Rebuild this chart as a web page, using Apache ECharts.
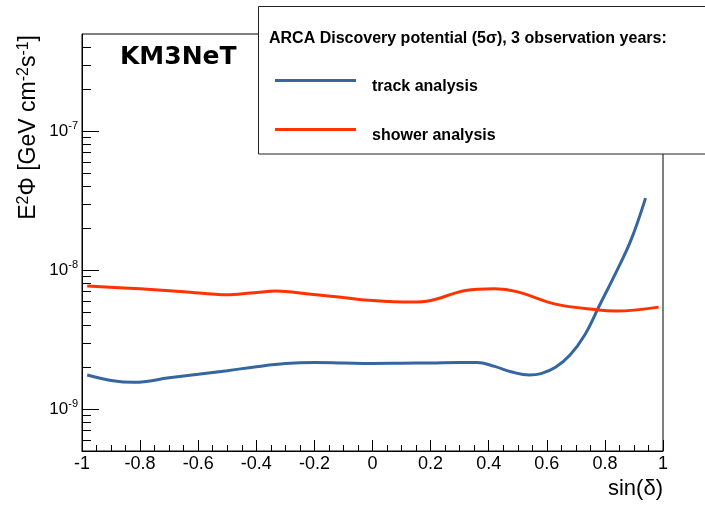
<!DOCTYPE html>
<html><head><meta charset="utf-8">
<script src="https://cdn.jsdelivr.net/npm/echarts@6/dist/echarts.min.js"></script>
<style>html,body{margin:0;padding:0;background:#fff}#c{width:705px;height:505px}</style>
</head><body><div id="c"></div>
<script>
// ---- data ----
const trackSinDelta = [-0.982, -0.9, -0.82, -0.7, -0.6, -0.5, -0.4, -0.3, -0.2, -0.1, 0.0, 0.1, 0.2, 0.3, 0.36, 0.42, 0.48, 0.54, 0.58, 0.63, 0.68, 0.73, 0.78, 0.84, 0.89, 0.94];
const trackFlux = [1.76e-9, 1.61e-9, 1.56e-9, 1.68e-9, 1.78e-9, 1.89e-9, 2.02e-9, 2.13e-9, 2.17e-9, 2.15e-9, 2.13e-9, 2.14e-9, 2.15e-9, 2.17e-9, 2.17e-9, 2.03e-9, 1.85e-9, 1.76e-9, 1.80e-9, 2.0e-9, 2.45e-9, 3.4e-9, 5.5e-9, 9.8e-9, 1.65e-8, 3.3e-8];
const showerSinDelta = [-0.982, -0.8, -0.65, -0.5, -0.42, -0.33, -0.22, -0.1, 0.0, 0.13, 0.2, 0.32, 0.42, 0.5, 0.63, 0.77, 0.84, 0.985];
const showerFlux = [7.7e-9, 7.34e-9, 7.0e-9, 6.65e-9, 6.84e-9, 7.07e-9, 6.73e-9, 6.35e-9, 6.05e-9, 5.89e-9, 6.05e-9, 7.14e-9, 7.34e-9, 6.98e-9, 5.7e-9, 5.19e-9, 5.08e-9, 5.42e-9];
const seriesNames = ['track analysis', 'shower analysis'];
const legendHeader = 'ARCA Discovery potential (5\u03c3), 3 observation years:';
const experimentLabel = 'KM3NeT';
const xRange = [-1, 1];
const xStep = 0.2;
const yRange = [5e-10, 5e-7];
const yMajorTicks = [1e-9, 1e-8, 1e-7];
const yMinorTicks = [6e-10, 7e-10, 8e-10, 9e-10, 2e-9, 3e-9, 4e-9, 5e-9, 6e-9, 7e-9, 8e-9, 9e-9, 2e-8, 3e-8, 4e-8, 5e-8, 6e-8, 7e-8, 8e-8, 9e-8, 2e-7, 3e-7, 4e-7];
const xTitle = 'sin(\u03b4)';

const FONT = 'Liberation Sans';
const zip = (a, b) => a.map((v, i) => [v, b[i]]);
// legend line icon: a 3px bar at the top of a 15px-tall item so the label sits a little lower
const LEGEND_ICON = 'path://M0,0H81V3H0Z M0,15H0.01V15.01H0Z';

const chart = echarts.init(document.getElementById('c'), null, {renderer: 'canvas'});
const yBase = {
  type: 'log', logBase: 10, min: yRange[0], max: yRange[1], position: 'left',
  splitLine: {show: false}, minorTick: {show: false}, minorSplitLine: {show: false}
};
chart.setOption({
  animation: false,
  backgroundColor: '#fff',
  grid: {left: 82, right: 42, top: 34, bottom: 54, show: true, borderColor: '#000', borderWidth: 1, containLabel: false, outerBoundsMode: 'none'},
  title: [
    {text: experimentLabel, left: 120, top: 45, padding: 0,
     textStyle: {fontFamily: 'DejaVu Sans', fontWeight: 'bold', fontSize: 25, color: '#000'}},
    {text: legendHeader, left: 269, top: 31, padding: 0, z: 8,
     textStyle: {fontFamily: FONT, fontWeight: 'bold', fontSize: 16, color: '#000'}}
  ],
  legend: seriesNames.map((n, i) => ({
    data: [{name: n, icon: LEGEND_ICON}], left: 275, top: i === 0 ? 78.5 : 127.5, padding: 0, orient: 'vertical',
    itemWidth: 81, itemHeight: 15, selectedMode: false, z: 8, symbolKeepAspect: false,
    textStyle: {fontFamily: FONT, fontWeight: 'bold', fontSize: 16, color: '#000', padding: [0, 0, 0, 11]}
  })),
  xAxis: {
    type: 'value', min: xRange[0], max: xRange[1], interval: xStep,
    name: xTitle, nameLocation: 'end', nameGap: 0,
    nameTextStyle: {fontFamily: FONT, fontSize: 22, color: '#000', align: 'right', verticalAlign: 'top', padding: [27, 0, 0, 0]},
    axisLine: {show: true, onZero: false, lineStyle: {color: '#000', width: 1}},
    axisTick: {show: true, inside: true, length: 11, lineStyle: {color: '#000'}},
    minorTick: {show: true, splitNumber: 4, length: 6, lineStyle: {color: '#000'}},
    splitLine: {show: false},
    axisLabel: {fontFamily: FONT, fontSize: 18, color: '#000', margin: 4}
  },
  yAxis: [
    Object.assign({}, yBase, {
      axisLine: {show: true, onZero: false, lineStyle: {color: '#000', width: 1}},
      axisTick: {show: true, inside: true, length: 17, customValues: yMajorTicks, lineStyle: {color: '#000'}},
      axisLabel: {
        customValues: yMajorTicks, margin: 4, color: '#000',
        formatter: v => '{b|10}{s|' + Math.round(Math.log10(v)) + '}',
        rich: {
          b: {fontFamily: FONT, fontSize: 17, lineHeight: 22, color: '#000'},
          s: {fontFamily: FONT, fontSize: 11, lineHeight: 12, verticalAlign: 'top', color: '#000'}
        }
      }
    }),
    Object.assign({}, yBase, {
      axisLine: {show: false, onZero: false},
      axisTick: {show: true, inside: true, length: 9, customValues: yMinorTicks, lineStyle: {color: '#000'}},
      axisLabel: {show: false}
    })
  ],
  graphic: [
    {type: 'rect', z: 5, shape: {x: 258.5, y: 6.5, width: 470, height: 147.5},
     style: {fill: '#fff', stroke: '#222', lineWidth: 1}},
    {type: 'text', z: 10, x: 29, y: 35, rotation: Math.PI / 2,
     style: {
       text: '{n|E}{s|2}{n|\u03a6 [GeV cm}{s|-2}{n|s}{s|-1}{n|]}',
       align: 'right', verticalAlign: 'middle', textAlign: 'right', textVerticalAlign: 'middle',
       fill: '#000',
       rich: {
         n: {fontFamily: FONT, fontSize: 23, lineHeight: 26, fill: '#000'},
         s: {fontFamily: FONT, fontSize: 16, lineHeight: 16, verticalAlign: 'top', fill: '#000'}
       }
     }}
  ],
  series: [
    {name: seriesNames[0], type: 'line', data: zip(trackSinDelta, trackFlux), smooth: 0.4,
     symbol: 'none', showSymbol: false, color: '#3566a0', lineStyle: {width: 3, color: '#3566a0'}, z: 3},
    {name: seriesNames[1], type: 'line', data: zip(showerSinDelta, showerFlux), smooth: 0.35,
     symbol: 'none', showSymbol: false, color: '#ff3300', lineStyle: {width: 3, color: '#ff3300'}, z: 3}
  ]
});
</script></body></html>
